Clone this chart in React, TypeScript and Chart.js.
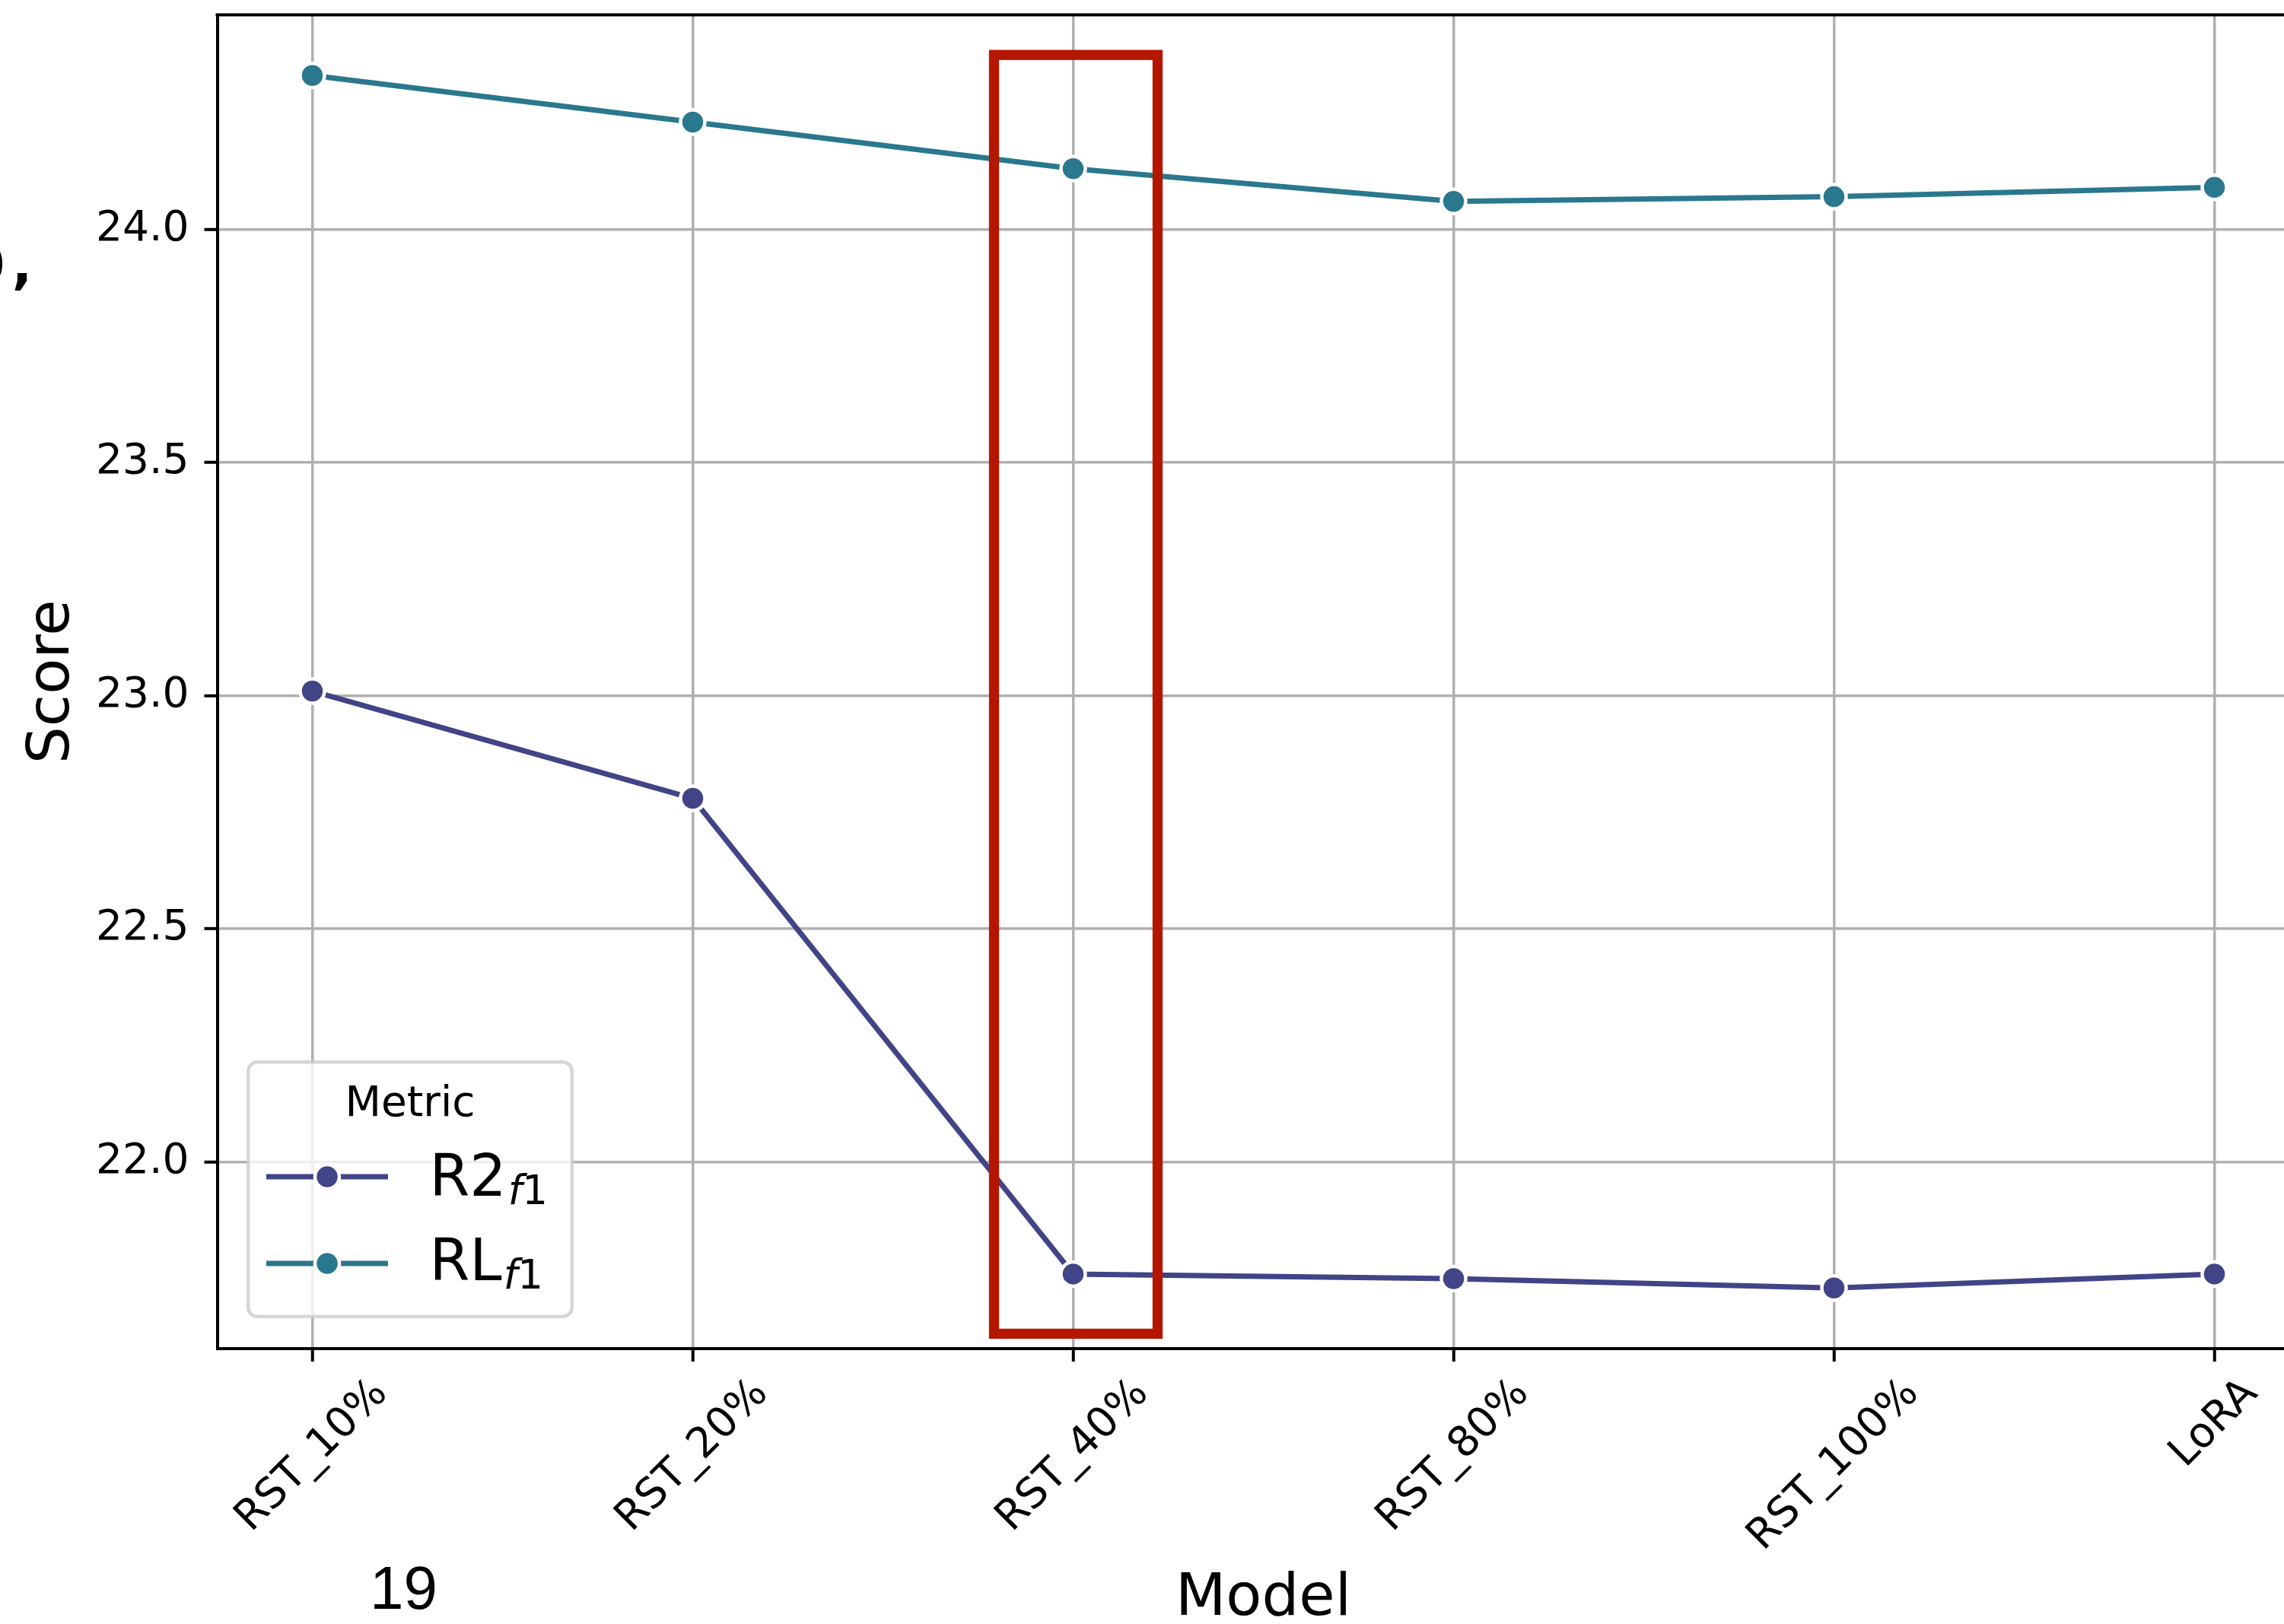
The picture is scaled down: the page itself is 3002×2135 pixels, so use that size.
import React, { useEffect, useRef } from "react";
import { Chart, registerables } from "chart.js";

Chart.register(...registerables);

// ---- data ----
const MODELS = ["RST_10%", "RST_20%", "RST_40%", "RST_80%", "RST_100%", "LoRA"];
const R2_F1 = [23.01, 22.78, 21.76, 21.75, 21.73, 21.76];
const RL_F1 = [24.33, 24.23, 24.13, 24.06, 24.07, 24.09];
const Y_TICKS = [22.0, 22.5, 23.0, 23.5, 24.0];
const SERIES_NAMES = ["R2", "RL"];
const SERIES_SUB = "f1";
const LEGEND_TITLE = "Metric";
const X_TITLE = "Model";
const Y_TITLE = "Score";
const HIGHLIGHT_MODEL = "RST_40%";
// highlight rectangle extent (data units, relative to the highlighted category)
const HL_X_FROM = -0.208;
const HL_X_TO = 0.222;
const HL_Y_TOP = 24.374;
const HL_Y_BOTTOM = 21.632;

// ---- style ----
const FONT = "'DejaVu Sans'";
const C_R2 = "#414487";
const C_RL = "#2a788e";
const C_BOX = "#b41600";
const GRID = "#b0b0b0";

const overlay = {
  id: "overlay",
  afterDatasetsDraw(chart: any) {
    const { ctx, scales } = chart;
    const x = scales.x;
    const y = scales.y;
    const i = MODELS.indexOf(HIGHLIGHT_MODEL);
    const x0 = x.getPixelForValue(i + HL_X_FROM);
    const x1 = x.getPixelForValue(i + HL_X_TO);
    const y0 = y.getPixelForValue(HL_Y_TOP);
    const y1 = y.getPixelForValue(HL_Y_BOTTOM);
    ctx.save();
    ctx.strokeStyle = C_BOX;
    ctx.lineWidth = 13.3;
    ctx.lineJoin = "miter";
    ctx.strokeRect(x0, y0, x1 - x0, y1 - y0);
    ctx.restore();
  },
  afterDraw(chart: any) {
    const { ctx, chartArea: ca, scales } = chart;
    const x = scales.x;
    ctx.save();
    // top spine
    ctx.strokeStyle = "#000";
    ctx.lineWidth = 4;
    ctx.beginPath();
    ctx.moveTo(ca.left - 2, ca.top);
    ctx.lineTo(ca.right + 2, ca.top);
    ctx.stroke();

    // x tick labels (rotated 45deg, centred on tick)
    ctx.fillStyle = "#000";
    ctx.font = `55px ${FONT}`;
    const top = ca.bottom + 28;
    const h = 55 * 1.164;
    MODELS.forEach((m, i) => {
      const px = x.getPixelForValue(i);
      const w = ctx.measureText(m).width;
      const cy = top + ((w + h) * Math.SQRT1_2) / 2;
      ctx.save();
      ctx.translate(px, cy);
      ctx.rotate(-Math.PI / 4);
      ctx.textAlign = "center";
      ctx.textBaseline = "middle";
      ctx.fillText(m, 0, 0);
      ctx.restore();
    });

    // legend
    const LW = 430;
    const LH = 339;
    const LX = ca.left + 38.5;
    const LY = ca.bottom - 40 - LH;
    ctx.beginPath();
    ctx.roundRect(LX + 2.25, LY + 2.25, LW - 4.5, LH - 4.5, 12);
    ctx.fillStyle = "rgba(255,255,255,0.8)";
    ctx.fill();
    ctx.strokeStyle = "rgba(204,204,204,0.8)";
    ctx.lineWidth = 4.5;
    ctx.stroke();

    ctx.fillStyle = "#000";
    ctx.font = `55px ${FONT}`;
    ctx.textAlign = "center";
    ctx.textBaseline = "alphabetic";
    ctx.fillText(LEGEND_TITLE, LX + LW / 2, LY + 73);

    const colors = [C_R2, C_RL];
    const rowY = [LY + 153, LY + 267];
    const baseY = [LY + 178, LY + 289];
    SERIES_NAMES.forEach((name, k) => {
      const c = colors[k];
      ctx.strokeStyle = c;
      ctx.lineWidth = 7;
      ctx.beginPath();
      ctx.moveTo(LX + 26, rowY[k]);
      ctx.lineTo(LX + 186, rowY[k]);
      ctx.stroke();
      ctx.beginPath();
      ctx.arc(LX + 106, rowY[k], 16, 0, Math.PI * 2);
      ctx.fillStyle = c;
      ctx.fill();
      ctx.strokeStyle = "#fff";
      ctx.lineWidth = 4.5;
      ctx.stroke();

      ctx.fillStyle = "#000";
      ctx.textAlign = "left";
      ctx.font = `76px ${FONT}`;
      const ox = LX + 240.5;
      ctx.fillText(name, ox, baseY[k]);
      const w = ctx.measureText(name).width;
      ctx.font = `italic 53px ${FONT}`;
      const sx = ox + w + 2;
      ctx.fillText(SERIES_SUB[0], sx, baseY[k] + 11);
      const wf = ctx.measureText(SERIES_SUB[0]).width;
      ctx.font = `53px ${FONT}`;
      ctx.fillText(SERIES_SUB.slice(1), sx + wf, baseY[k] + 11);
    });

    // stray page text visible in the crop
    ctx.fillStyle = "#000";
    ctx.font = `bold 70px ${FONT}`;
    ctx.textAlign = "right";
    ctx.fillText("0", 6.5, 372);
    ctx.textAlign = "left";
    ctx.fillText(",", 15.8, 372);
    ctx.font = `80px 'Liberation Sans'`;
    ctx.fillText("19", 486, 2115);
    ctx.restore();
  },
};

export default function App() {
  const ref = useRef<HTMLCanvasElement>(null);
  useEffect(() => {
    const canvas = ref.current!;
    const mk = (label: string, vals: number[], color: string) => ({
      label,
      data: MODELS.map((_, i) => ({ x: i, y: vals[i] })),
      borderColor: color,
      backgroundColor: color,
      pointBackgroundColor: color,
      pointBorderColor: "#ffffff",
      pointRadius: 16,
      pointBorderWidth: 4.5,
      borderWidth: 7,
      tension: 0,
      fill: false,
    });
    const chart = new Chart(canvas, {
      type: "line",
      data: {
        datasets: [
          mk(SERIES_NAMES[0], R2_F1, C_R2),
          mk(SERIES_NAMES[1], RL_F1, C_RL),
        ],
      },
      options: {
        responsive: false,
        animation: false,
        events: [],
        layout: {
          autoPadding: false,
          padding: { top: 19.5, left: 0, right: 64.5, bottom: 0 },
        },
        plugins: {
          legend: { display: false },
          tooltip: { enabled: false },
          title: { display: false },
        },
        scales: {
          x: {
            type: "linear",
            min: -0.25,
            max: 5.25,
            afterBuildTicks: (s: any) => {
              s.ticks = MODELS.map((_, i) => ({ value: i }));
            },
            afterFit: (s: any) => {
              s.height = 362;
              s.paddingLeft = 0;
              s.paddingRight = 0;
              s.paddingTop = 0;
              s.paddingBottom = 0;
            },
            ticks: { display: false },
            grid: {
              color: GRID,
              lineWidth: 3.5,
              tickColor: "#000",
              tickWidth: 4,
              tickLength: 17,
              drawTicks: true,
            },
            border: { display: true, color: "#000", width: 4 },
            title: {
              display: true,
              text: X_TITLE,
              color: "#000",
              font: { family: FONT, size: 77, lineHeight: 0.8 },
              padding: { top: 0, bottom: 0.8 },
            },
          },
          y: {
            type: "linear",
            min: 21.6,
            max: 24.46,
            afterBuildTicks: (s: any) => {
              s.ticks = Y_TICKS.map((v) => ({ value: v }));
            },
            afterFit: (s: any) => {
              s.width = 285.5;
              s.paddingLeft = 0;
              s.paddingRight = 0;
              s.paddingTop = 0;
              s.paddingBottom = 0;
            },
            ticks: {
              color: "#000",
              font: { family: FONT, size: 55 },
              padding: 20,
              callback: (v: any) => Number(v).toFixed(1),
            },
            grid: {
              color: GRID,
              lineWidth: 3.5,
              tickColor: "#000",
              tickWidth: 4,
              tickLength: 17,
              drawTicks: true,
            },
            border: { display: true, color: "#000", width: 4 },
            title: {
              display: true,
              text: Y_TITLE,
              color: "#000",
              font: { family: FONT, size: 77, lineHeight: 1.2 },
              padding: { top: 24, bottom: 0 },
            },
          },
        },
      },
      plugins: [overlay],
    } as any);
    return () => chart.destroy();
  }, []);
  return (
    <div
      style={{
        position: "absolute",
        left: 0,
        top: 0,
        width: 3002,
        height: 2135,
        overflow: "hidden",
        background: "#fff",
      }}
    >
      <canvas ref={ref} width={3100} height={2135} style={{ display: "block" }} />
    </div>
  );
}
